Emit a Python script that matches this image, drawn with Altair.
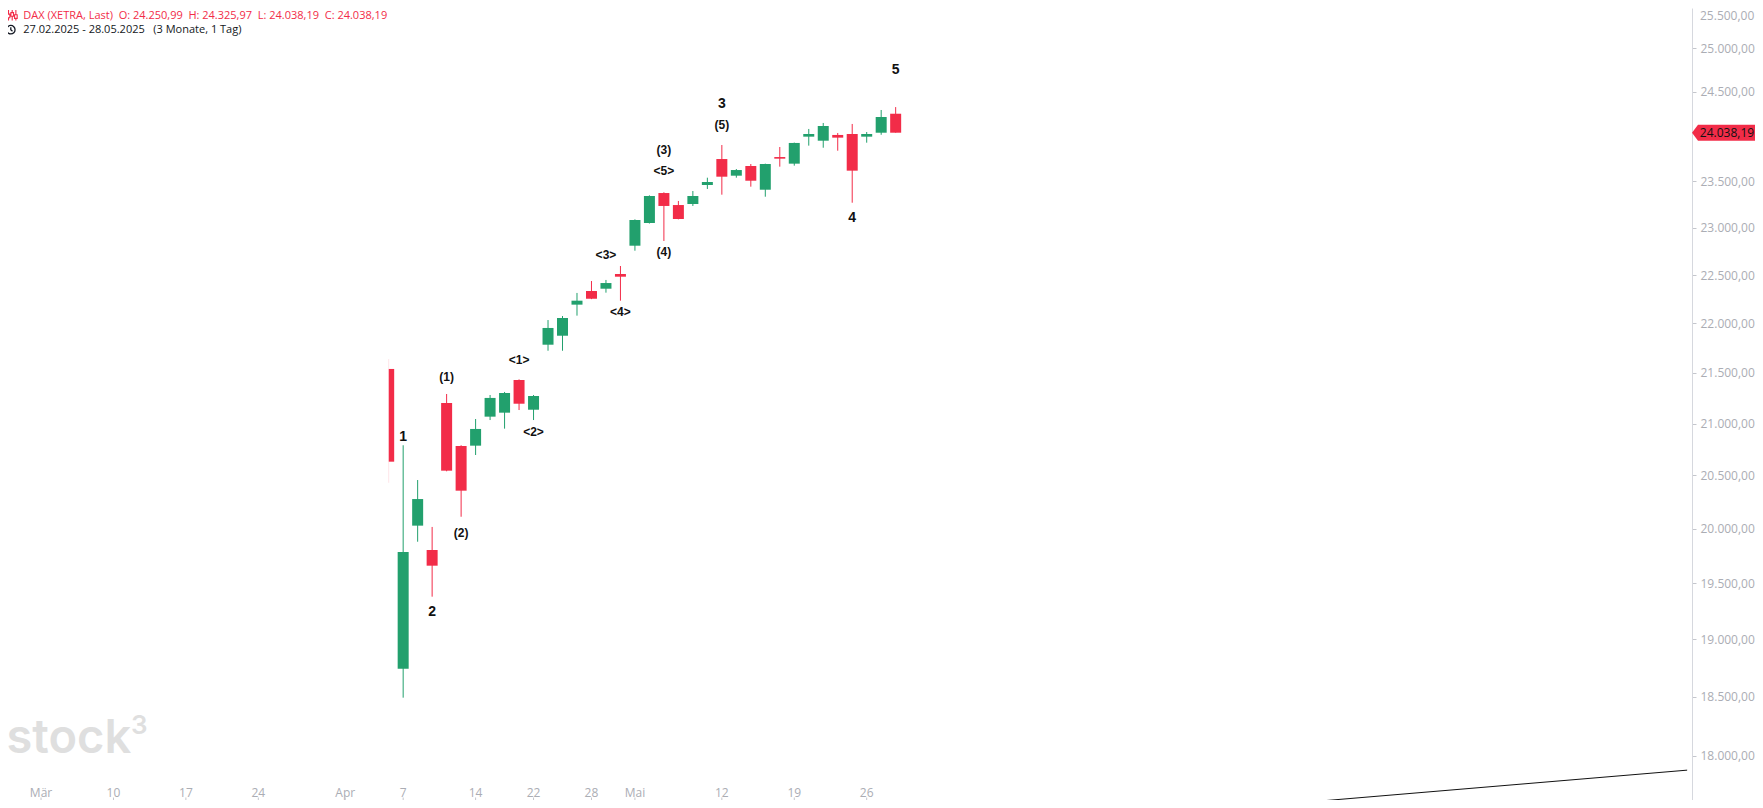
import altair as alt
import pandas as pd

# ---------------- data ----------------
dates = ["2025-04-04", "2025-04-07", "2025-04-08", "2025-04-09", "2025-04-10", "2025-04-11",
         "2025-04-14", "2025-04-15", "2025-04-16", "2025-04-17",
         "2025-04-22", "2025-04-23", "2025-04-24", "2025-04-25",
         "2025-04-28", "2025-04-29", "2025-04-30", "2025-05-02",
         "2025-05-05", "2025-05-06", "2025-05-07", "2025-05-08", "2025-05-09",
         "2025-05-12", "2025-05-13", "2025-05-14", "2025-05-15", "2025-05-16",
         "2025-05-19", "2025-05-20", "2025-05-21", "2025-05-22", "2025-05-23",
         "2025-05-26", "2025-05-27", "2025-05-28"]
opens = [21540, 18740, 20028, 19803, 21202, 20783,
         20786, 21068, 21107, 21430,
         21136, 21784, 21875, 22193,
         22334, 22358, 22511, 22809,
         23051, 23374, 23244, 23255, 23461,
         23746, 23563, 23669, 23410, 23768,
         23695, 23994, 23949, 24013, 24024,
         23994, 24038, 24250.99]
highs = [21640, 20790, 20457, 20016, 21291, 20790,
         21045, 21281, 21311, 21436,
         21281, 22035, 22076, 22314,
         22438, 22449, 22595, 23090,
         23349, 23382, 23288, 23396, 23541,
         23901, 23636, 23691, 23695, 23879,
         23928, 24080, 24147, 24035, 24136,
         24046, 24293, 24325.97]
lows = [20431, 18490, 19879, 19378, 20540, 20111,
        20696, 21035, 20951, 21133,
        21035, 21723, 21723, 22080,
        22250, 22317, 22234, 22756,
        23045, 22859, 23090, 23234, 23418,
        23356, 23541, 23443, 23334, 23662,
        23673, 23894, 23871, 23838, 23269,
        23927, 24015, 24038.19]
closes = [20632, 19784, 20277, 19659, 20546, 20356,
          20948, 21252, 21301, 21195,
          21271, 21954, 22056, 22234,
          22254, 22417, 22483, 23083,
          23342, 23234, 23094, 23342, 23494,
          23552, 23625, 23508, 23691, 23750,
          23924, 24024, 24113, 23983, 23618,
          24024, 24214, 24038.19]

wave_dates = ["2025-04-07", "2025-04-09", "2025-04-10", "2025-04-11", "2025-04-17", "2025-04-22",
              "2025-04-29", "2025-04-30", "2025-05-06", "2025-05-06", "2025-05-06",
              "2025-05-12", "2025-05-12", "2025-05-23", "2025-05-28"]
wave_text = ["1", "2", "(1)", "(2)", "<1>", "<2>", "<3>", "<4>", "(3)", "<5>", "(4)",
             "3", "(5)", "4", "5"]
wave_level = [20873, 19241, 21455, 19964, 21625, 20914, 22716, 22114, 23846, 23614, 22739,
              24361, 24124, 23101, 24752]

tick_dates = ["2025-03-03", "2025-03-10", "2025-03-17", "2025-03-24", "2025-04-01", "2025-04-07",
              "2025-04-14", "2025-04-22", "2025-04-28", "2025-05-02", "2025-05-12", "2025-05-19",
              "2025-05-26"]
tick_labels = ["Mär", "10", "17", "24", "Apr", "7", "14", "22", "28", "Mai", "12", "19", "26"]

# 24.000 is hidden behind the last-price flag in the reference
y_ticks = [18000, 18500, 19000, 19500, 20000, 20500, 21000, 21500, 22000, 22500,
           23000, 23500, 24500, 25000]
y_top_tick = [25500]

trend_idx = [84.24, 115.64]
trend_values = [17563, 17878]

holidays = ["2025-04-18", "2025-04-21", "2025-05-01"]

# ---------------- helpers ----------------
days = [d.strftime("%Y-%m-%d") for d in pd.bdate_range("2025-02-27", "2025-05-28")]
days = [d for d in days if d not in holidays]
day_index = {d: i for i, d in enumerate(days)}


def de(v):
    s = f"{v:,.2f}"
    return s.replace(",", "#").replace(".", ",").replace("#", ".")


GREEN = "#22a06d"
RED = "#f22c48"
GRAY = "#abadb4"

candles = pd.DataFrame({
    "idx": [day_index[d] for d in dates],
    "open": opens, "high": highs, "low": lows, "close": closes,
})
candles["dir"] = ["up" if c >= o else "down" for o, c in zip(opens, closes)]
candles["partial"] = [i == 0 for i in range(len(candles))]

waves = pd.DataFrame({
    "idx": [day_index[d] for d in wave_dates],
    "text": wave_text,
    "level": wave_level,
})
waves["kind"] = ["big" if t.isdigit() else ("paren" if t.startswith("(") else "angle") for t in wave_text]

ticks = pd.DataFrame({"idx": [day_index[d] for d in tick_dates], "label": tick_labels})
trend = pd.DataFrame({"idx": trend_idx, "val": trend_values})
top_tick = pd.DataFrame({"v": y_top_tick, "label": [de(v) for v in y_top_tick]})

last = candles.iloc[-1]
header1 = ("DAX (XETRA, Last)\u00a0\u00a0O: " + de(last["open"]) + "\u00a0\u00a0H: " + de(last["high"])
           + "\u00a0\u00a0L: " + de(last["low"]) + "\u00a0\u00a0C: " + de(last["close"]))
d0 = pd.Timestamp(days[0]).strftime("%d.%m.%Y")
d1 = pd.Timestamp(days[-1]).strftime("%d.%m.%Y")
header2 = d0 + " - " + d1 + "\u00a0\u00a0\u00a0(3 Monate, 1 Tag)"

flag_df = pd.DataFrame({"close": [last["close"]], "label": [de(last["close"])]})

# ---------------- scales ----------------
W, H = 1684, 792
xs = alt.Scale(domain=[0.0645, 115.63], nice=False, zero=False)
ys = alt.Scale(type="log", domain=[17631.8, 25471.6], nice=False)
col = alt.Color("dir:N", scale=alt.Scale(domain=["up", "down"], range=[GREEN, RED]), legend=None)

label_expr = "replace(replace(replace(format(datum.value, ',.2f'), ',', '#'), '.', ','), '#', '.')"
y_axis = alt.Axis(orient="right", values=y_ticks, labelExpr=label_expr, title=None, grid=False,
                  domainColor="#d6d8de", tickColor="#c4c6cc", tickSize=4, labelPadding=4,
                  labelColor=GRAY, labelFont="Open Sans", labelFontSize=12,
                  labelFlush=False, labelOverlap=False)


def Y(field):
    return alt.Y(field, scale=ys, axis=y_axis)


X = alt.X("idx:Q", scale=xs, axis=None)

one = pd.DataFrame({"a": [0]})

# watermark
wm1 = alt.Chart(one).mark_text(text="stock", font="Inter", fontSize=47, fontWeight=600,
                               color="#dfdfdf", align="left", baseline="alphabetic").encode(
    x=alt.value(-1.5), y=alt.value(745))
wm2 = alt.Chart(one).mark_text(text="3", font="Inter", fontSize=26, fontWeight=600,
                               color="#dfdfdf", align="left", baseline="alphabetic").encode(
    x=alt.value(123), y=alt.value(726))

trend_line = alt.Chart(trend).mark_line(color="#111111", strokeWidth=1, clip=True).encode(
    x=X, y=Y("val:Q"))

full = candles[~candles["partial"]]
part = candles[candles["partial"]]

wicks = alt.Chart(full).mark_rule(strokeWidth=1).encode(
    x=X, y=Y("low:Q"), y2="high:Q", color=col)
bodies = alt.Chart(full).mark_bar(size=11).encode(
    x=X, y=Y("open:Q"), y2="close:Q", color=col)
pwick = alt.Chart(part).mark_rule(strokeWidth=1, opacity=0.12).encode(
    x=X, y=Y("low:Q"), y2="high:Q", color=col)
pbody = alt.Chart(part).mark_bar(size=5.4, xOffset=2.8).encode(
    x=X, y=Y("open:Q"), y2="close:Q", color=col)


def wave_layer(kind, size, weight):
    return alt.Chart(waves).transform_filter(alt.datum.kind == kind).mark_text(
        font="Liberation Sans", fontSize=size, fontWeight=weight, color="#111111",
        align="center", baseline="middle").encode(
        x=X, y=Y("level:Q"), text="text:N")


w_big = wave_layer("big", 14, "bold")
w_par = wave_layer("paren", 12, "bold")
w_ang = wave_layer("angle", 12, "bold")

xlab = alt.Chart(ticks).mark_text(font="Open Sans", fontSize=12, color=GRAY,
                                  align="center", baseline="middle").encode(
    x=X, y=alt.value(784.5), text="label:N")
xtick = alt.Chart(ticks).mark_rule(color="#c4c6cc", strokeWidth=1).encode(
    x=X, y=alt.value(789.5), y2=alt.value(792))

toplab = alt.Chart(top_tick).mark_text(font="Open Sans", fontSize=12, color=GRAY,
                                       align="left", baseline="middle", dy=10).encode(
    x=alt.value(1692), y=Y("v:Q"), text="label:N")

flag_body = alt.Chart(flag_df).mark_rect(color=RED, yOffset=-8, y2Offset=8).encode(
    x=alt.value(1690), x2=alt.value(1747), y=Y("close:Q"), y2="close:Q")
tip_path = "M -0.375 0 L 0.375 -1 L 0.375 1 Z"
flag_tip = alt.Chart(flag_df).mark_point(shape=tip_path, size=256, filled=True, opacity=1,
                                         color=RED, strokeWidth=0).encode(
    x=alt.value(1687), y=Y("close:Q"))
flag_txt = alt.Chart(flag_df).mark_text(font="Open Sans", fontSize=12, color="#111111",
                                        align="center", baseline="middle").encode(
    x=alt.value(1719), y=Y("close:Q"), text="label:N")

h1 = alt.Chart(pd.DataFrame({"t": [header1]})).mark_text(
    font="Open Sans", fontSize=11, color=RED, align="left", baseline="middle").encode(
    x=alt.value(15.3), y=alt.value(7.5), text="t:N")
h2 = alt.Chart(pd.DataFrame({"t": [header2]})).mark_text(
    font="Open Sans", fontSize=11, color="#131722", align="left", baseline="middle").encode(
    x=alt.value(15.3), y=alt.value(22.3), text="t:N")

candle_icon = ("M -0.7 -1 L -0.7 -0.2 M -0.7 0.5 L -0.7 1 M -0.95 -0.2 L -0.45 -0.2 L -0.45 0.5 "
               "L -0.95 0.5 Z M 0 -1 L 0 -0.5 M 0 0.2 L 0 1 M -0.25 -0.5 L 0.25 -0.5 L 0.25 0.2 "
               "L -0.25 0.2 Z M 0.7 -1 L 0.7 -0.1 M 0.7 0.6 L 0.7 1 M 0.45 -0.1 L 0.95 -0.1 "
               "L 0.95 0.6 L 0.45 0.6 Z")
clock_icon = ("M 0 -1 A 1 1 0 0 1 1 0 A 1 1 0 0 1 0 1 A 1 1 0 0 1 -1 0 A 1 1 0 0 1 0 -1 Z "
              "M 0 -0.55 L 0 0 L 0.4 0.35")
ic1 = alt.Chart(one).mark_point(shape=candle_icon, size=110, filled=False, opacity=1,
                                stroke=RED, strokeWidth=1.1).encode(
    x=alt.value(4.2), y=alt.value(7.2))
ic2 = alt.Chart(one).mark_point(shape=clock_icon, size=72, filled=False, opacity=1,
                                stroke="#131722", strokeWidth=1.3).encode(
    x=alt.value(2.8), y=alt.value(21.7))

chart = alt.layer(
    wicks, wm1, wm2, trend_line, bodies, pwick, pbody, w_big, w_par, w_ang,
    xlab, xtick, toplab, flag_body, flag_tip, flag_txt, h1, h2, ic1, ic2
).properties(
    width=W, height=H,
    padding={"left": 0, "top": 0, "right": 63, "bottom": 0},
    autosize=alt.AutoSizeParams(type="none"),
    background="white",
).configure_view(stroke=None)

chart.save("out.html", embed_options={"renderer": "svg", "actions": False})
